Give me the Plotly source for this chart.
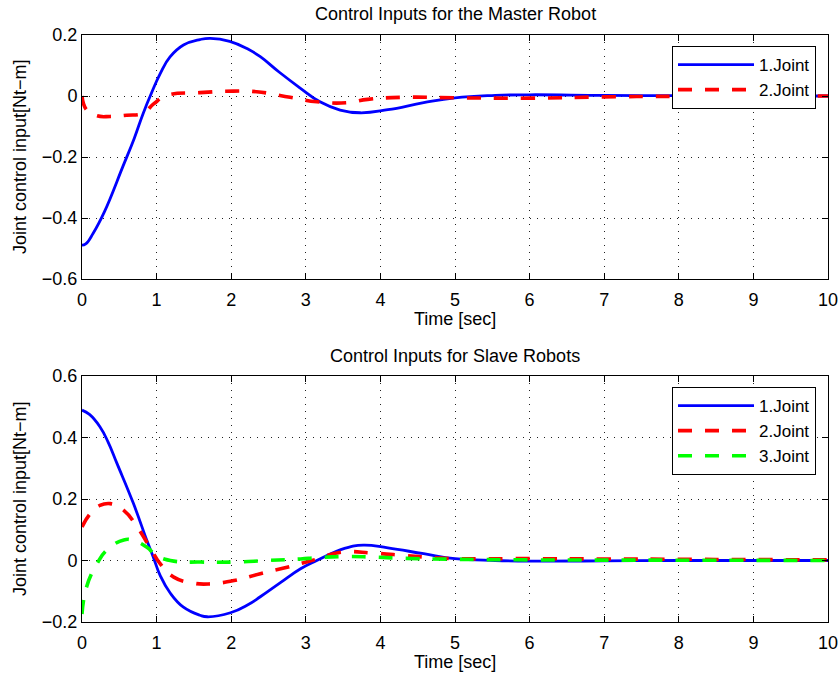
import plotly.graph_objects as go

# ---- data ----
m_t1 = [0, 0.05, 0.15, 0.3, 0.55, 0.7, 0.82, 0.93, 1.05, 1.18, 1.36, 1.58, 1.72, 1.98, 2.23, 2.39, 2.65, 2.92, 3.19, 3.46, 3.73, 4.1, 4.58, 5.0, 5.54, 6.0, 7, 8, 9, 10]
m_j1 = [-0.489, -0.485, -0.45, -0.38, -0.23, -0.139, -0.057, 0.009, 0.074, 0.128, 0.167, 0.185, 0.189, 0.179, 0.153, 0.129, 0.077, 0.027, -0.019, -0.046, -0.055, -0.045, -0.022, -0.006, 0.002, 0.004, 0.002, 0.001, 0.0, 0.0]

m_t2 = [0, 0.06, 0.2, 0.38, 0.6, 0.82, 0.96, 1.13, 1.58, 2.03, 2.34, 2.79, 3.15, 3.55, 3.83, 4.34, 5, 6, 7, 8, 10]
m_j2 = [0.0, -0.045, -0.065, -0.067, -0.063, -0.056, -0.026, 0.001, 0.011, 0.016, 0.014, -0.004, -0.019, -0.022, -0.011, -0.004, -0.006, -0.007, -0.003, -0.001, 0.0]

s_t1 = [0, 0.1, 0.24, 0.35, 0.47, 0.69, 0.87, 0.95, 1.05, 1.18, 1.36, 1.58, 1.68, 1.99, 2.23, 2.39, 2.66, 2.93, 3.14, 3.53, 3.77, 4.1, 4.58, 5, 5.54, 6, 7, 8, 10]
s_j1 = [0.489, 0.475, 0.435, 0.385, 0.315, 0.185, 0.065, 0.015, -0.05, -0.105, -0.152, -0.178, -0.183, -0.17, -0.143, -0.118, -0.072, -0.027, -0.001, 0.04, 0.05, 0.041, 0.022, 0.006, 0.0, -0.002, -0.001, 0.0, 0.0]

s_t2 = [0, 0.11, 0.24, 0.38, 0.56, 0.74, 0.91, 1.05, 1.23, 1.5, 1.72, 2.04, 2.39, 2.75, 2.93, 3.14, 3.48, 3.9, 4.34, 4.73, 5, 6, 7, 8, 9, 10]
s_j2 = [0.109, 0.152, 0.179, 0.185, 0.163, 0.109, 0.043, -0.011, -0.054, -0.074, -0.076, -0.065, -0.043, -0.022, -0.01, 0.004, 0.027, 0.024, 0.016, 0.009, 0.006, 0.006, 0.005, 0.004, 0.003, 0.002]

s_t3 = [0, 0.06, 0.2, 0.33, 0.56, 0.69, 0.87, 1.0, 1.23, 1.59, 2.04, 2.48, 2.93, 3.14, 3.53, 3.9, 4.34, 5, 6, 8, 10]
s_j3 = [-0.174, -0.087, -0.011, 0.033, 0.067, 0.065, 0.043, 0.016, -0.002, -0.005, -0.005, 0.0, 0.005, 0.009, 0.013, 0.011, 0.007, 0.004, 0.002, 0.001, 0.0]

names = ["1.Joint", "2.Joint", "3.Joint"]
colors = ["#0000ff", "#ff0000", "#00ff00"]
title_top = "Control Inputs for the Master Robot"
title_bot = "Control Inputs for Slave Robots"
xlabel = "Time [sec]"
ylabel = "Joint control input[Nt\u2212m]"

FONT = "Liberation Sans, Arial, sans-serif"
W, H = 840, 679
DASH = "14px,13px"

fig = go.Figure()

def add(x, y, name, color, dash, xa, ya, legend):
    fig.add_trace(go.Scatter(
        x=x, y=y, name=name, mode="lines", xaxis=xa, yaxis=ya, legend=legend,
        line=dict(color=color, width=3.6 if dash != "solid" else 2.8, dash=dash,
                  shape="spline", smoothing=1.3),
    ))

add(m_t1, m_j1, names[0], colors[0], "solid", "x", "y", "legend")
add(m_t2, m_j2, names[1], colors[1], DASH, "x", "y", "legend")
add(s_t1, s_j1, names[0], colors[0], "solid", "x2", "y2", "legend2")
add(s_t2, s_j2, names[1], colors[1], DASH, "x2", "y2", "legend2")
add(s_t3, s_j3, names[2], colors[2], DASH, "x2", "y2", "legend2")

xl, xr = 82 / W, 828 / W
top_dom = [1 - 279 / H, 1 - 35 / H]
bot_dom = [1 - 622 / H, 1 - 376 / H]

axis_common = dict(
    showline=True, linecolor="black", linewidth=1, mirror="allticks",
    ticks="inside", ticklen=6, tickcolor="black", tickwidth=1,
    showgrid=True, gridcolor="#222", gridwidth=1, griddash="1px,6px",
    zeroline=False, automargin=False,
    tickfont=dict(family=FONT, size=18, color="black"),
)

leg_common = dict(xanchor="right", yanchor="top",
                  bordercolor="black", borderwidth=1, bgcolor="white",
                  font=dict(family=FONT, size=17), itemwidth=76, tracegroupgap=0)

fig.update_layout(
    width=W, height=H,
    margin=dict(l=0, r=0, t=0, b=0, autoexpand=False),
    paper_bgcolor="white", plot_bgcolor="white",
    font=dict(family=FONT, size=18, color="black"),
    xaxis=dict(domain=[xl, xr], anchor="y", range=[0, 10], dtick=1, ticklabelstandoff=4, **axis_common),
    yaxis=dict(domain=top_dom, anchor="x", range=[-0.6, 0.2], dtick=0.2, **axis_common),
    xaxis2=dict(domain=[xl, xr], anchor="y2", range=[0, 10], dtick=1, ticklabelstandoff=4, **axis_common),
    yaxis2=dict(domain=bot_dom, anchor="x2", range=[-0.2, 0.6], dtick=0.2, **axis_common),
    legend=dict(x=816 / W, y=1 - 46 / H, **leg_common),
    legend2=dict(x=816 / W, y=1 - 387 / H, **leg_common),
    showlegend=True,
)

ann = [
    dict(text=title_top, x=(xl + xr) / 2, y=1 - 14 / H, textangle=0),
    dict(text=title_bot, x=(xl + xr) / 2, y=1 - 356 / H, textangle=0),
    dict(text=xlabel, x=(xl + xr) / 2, y=1 - 319 / H, textangle=0),
    dict(text=xlabel, x=(xl + xr) / 2, y=1 - 662 / H, textangle=0),
    dict(text=ylabel, x=20 / W, y=1 - 157 / H, textangle=-90),
    dict(text=ylabel, x=20 / W, y=1 - 499 / H, textangle=-90),
]
for a in ann:
    fig.add_annotation(xref="paper", yref="paper", showarrow=False,
                       xanchor="center", yanchor="middle",
                       font=dict(family=FONT, size=18, color="black"), **a)

fig.write_html("out.html")
